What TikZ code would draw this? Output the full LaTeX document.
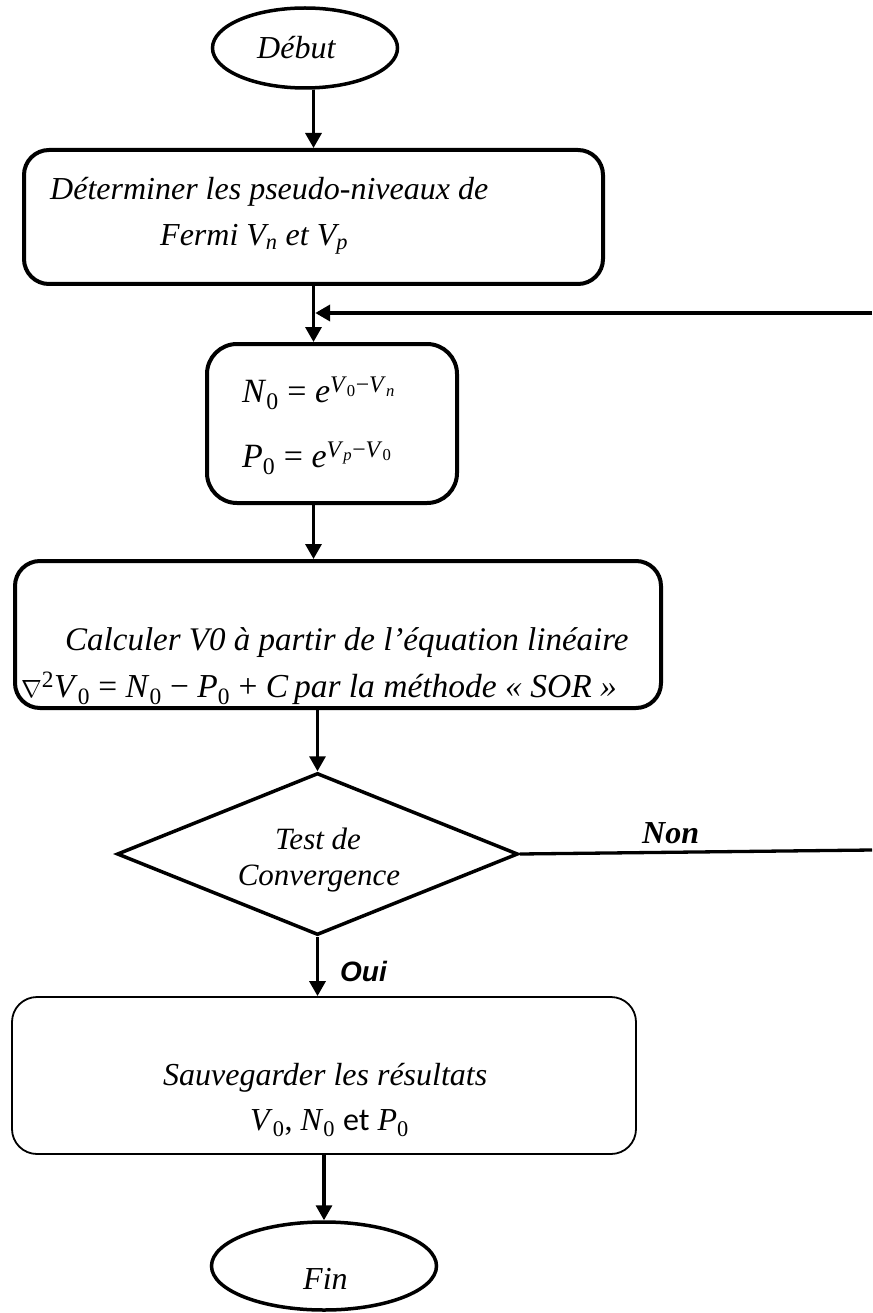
\documentclass[tikz,border=0pt]{standalone}
\usepackage{fontspec}
\setmainfont{Liberation Serif}
\newfontfamily\arialf{Liberation Sans}
\newfontfamily\calib{Carlito}
\usetikzlibrary{shapes.geometric,arrows.meta}
\newcommand{\lo}[1]{\textsubscript{#1}}
\newcommand{\hi}[1]{\textsuperscript{#1}}
\tikzset{
  box/.style={draw, line width=4pt, rounded corners=25pt, inner sep=0pt},
  thinbox/.style={draw, line width=1.8pt, rounded corners=25pt, inner sep=0pt},
  ell/.style={ellipse, draw, line width=3.5pt, inner sep=0pt},
  dia/.style={diamond, draw, line width=3.5pt, inner sep=0pt, aspect=2.5},
  arr/.style={line width=3.3pt, -{Triangle[length=15pt,width=16pt]}},
  plain/.style={line width=3.3pt},
  txt/.style={anchor=base west, inner sep=0pt, font=\fontsize{32}{38}\selectfont\itshape},
  mtxt/.style={anchor=base west, inner sep=0pt, font=\fontsize{34}{40}\selectfont},
  ctxt/.style={anchor=base, inner sep=0pt, font=\fontsize{31}{36}\selectfont\itshape},
}
\begin{document}
\begin{tikzpicture}[x=1pt,y=-1pt]
\useasboundingbox (0,0) rectangle (872,1313);
% shapes
\node[ell, minimum width=185pt, minimum height=80pt] (debut) at (305,48) {};
\node[box, minimum width=579pt, minimum height=134pt] (b1) at (313.5,217) {};
\node[box, minimum width=250pt, minimum height=159pt, rounded corners=30pt] (b2) at (332,423.5) {};
\node[box, minimum width=646pt, minimum height=147pt] (b3) at (338,634.5) {};
\node[dia, minimum width=401pt, minimum height=162pt] (d) at (317.5,854) {};
\node[thinbox, minimum width=624pt, minimum height=157pt] (b5) at (324,1075.5) {};
\node[ell, minimum width=225pt, minimum height=88pt] (fin) at (324,1266) {};
% texts
\node[txt] (tdebut) at (257,59) {Début};
\node[txt] (t1a) at (50,200) {Déterminer les pseudo-niveaux de};
\node[txt] (t1b) at (160,246) {Fermi V\lo{n} et V\lo{p}};
\node[mtxt] (t2a) at (242,402) {\textit{N}\lo{0} = \textit{e}\hi{\textit{V}\lo{0}−\textit{V}\lo{\textit{n}}}};
\node[mtxt] (t2b) at (242,467) {\textit{P}\lo{0} = \textit{e}\hi{\textit{V}\lo{\textit{p}}−\textit{V}\lo{0}}};
\node[txt, font=\fontsize{33}{38}\selectfont\itshape] (t3a) at (65,650) {Calculer V0 à partir de l’équation linéaire};
\node[txt, font=\fontsize{33.5}{38}\selectfont] (t3b) at (21,697) {$\nabla$\hi{2}\textit{V}\lo{0} = \textit{N}\lo{0} − \textit{P}\lo{0} + \textit{C}\,\textit{par la méthode « SOR »}};
\node[ctxt] (td1) at (318,849) {Test de};
\node[ctxt] (td2) at (319,885) {Convergence};
\node[txt, font=\fontsize{32}{38}\selectfont\bfseries\itshape] (non) at (642,843) {Non};
\node[txt, font=\fontsize{28}{32}\selectfont\arialf\bfseries\itshape] (oui) at (340,981) {Oui};
\node[txt] (t5a) at (163,1085) {Sauvegarder les résultats};
\node[txt, font=\fontsize{32}{38}\selectfont] (t5b) at (250,1130) {\textit{V}\lo{0}, \textit{N}\lo{0} {\calib et} \textit{P}\lo{0}};
\node[txt] (tfin) at (303,1289) {Fin};
% free ends
\coordinate (fbR) at (872,313);
\coordinate (nonR) at (872,850);
% connectors
\draw[arr] (b1.north |- debut.south) -- (b1.north);
\draw[arr] (b1.south) -- (b1.south |- b2.north);
\draw[arr, line width=4.5pt, shorten >=1.7pt] (fbR) -- (fbR -| b1.south);
\draw[arr] (b1.south |- b2.south) -- (b1.south |- b3.north);
\draw[arr] (d.north |- b3.south) -- (d.north);
\draw[plain] (d.east) -- (nonR);
\draw[arr] (d.south) -- (d.south |- b5.north);
\draw[arr] (fin.north |- b5.south) -- (fin.north);
\end{tikzpicture}
\end{document}
